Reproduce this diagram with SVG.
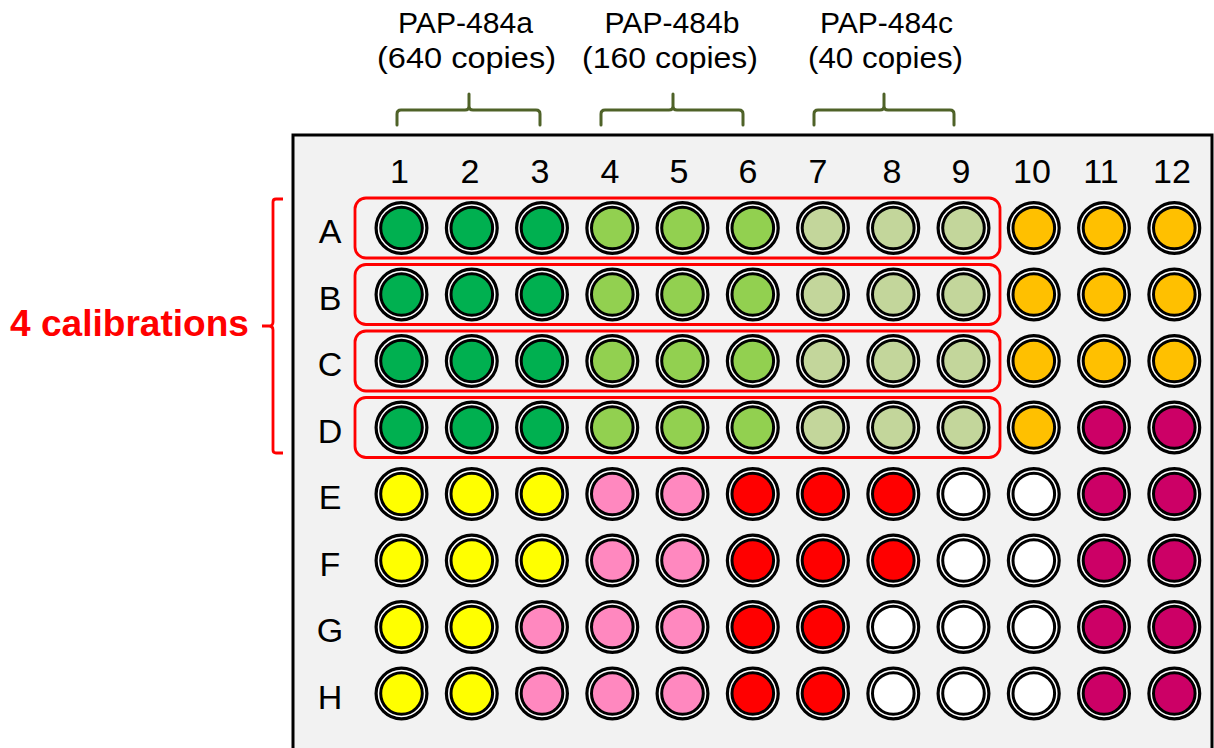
<svg xmlns="http://www.w3.org/2000/svg" width="1214" height="748" viewBox="0 0 1214 748">
<style>
.t{font-family:"Liberation Sans",Arial,sans-serif;fill:#000;}
.top{font-size:29px;text-anchor:middle;}
.lab{font-size:34px;text-anchor:middle;}
.o{fill:#fff;stroke:#000;stroke-width:3.2;}
.i{stroke:#000;stroke-width:3;}
.dg{fill:#00b050;}.lg{fill:#92d050;}.pg{fill:#c3d69b;}.or{fill:#ffc000;}.mg{fill:#cc0066;}
.ye{fill:#ffff00;}.pk{fill:#ff88bf;}.rd{fill:#ff0000;}.wh{fill:#ffffff;}
.gb{fill:none;stroke:#4f6228;stroke-width:3;stroke-linecap:round;}
.rb{fill:none;stroke:#ff0000;stroke-width:2.8;}
.rr{fill:none;stroke:#ff0000;stroke-width:2.8;}
</style>
<rect width="1214" height="748" fill="#fff"/>
<g id="plate"><rect x="293" y="135" width="919" height="640" fill="#f2f2f2" stroke="#000" stroke-width="3"/></g>
<g id="top-labels">
<text class="t top" x="465.5" y="33" textLength="135" lengthAdjust="spacingAndGlyphs">PAP-484a</text>
<text class="t top" x="466.5" y="68" textLength="179" lengthAdjust="spacingAndGlyphs">(640 copies)</text>
<text class="t top" x="672" y="33" textLength="135" lengthAdjust="spacingAndGlyphs">PAP-484b</text>
<text class="t top" x="670" y="68" textLength="176" lengthAdjust="spacingAndGlyphs">(160 copies)</text>
<text class="t top" x="886.5" y="33" textLength="133" lengthAdjust="spacingAndGlyphs">PAP-484c</text>
<text class="t top" x="885.5" y="68" textLength="155" lengthAdjust="spacingAndGlyphs">(40 copies)</text>
</g>
<g id="connectors">
<path class="gb" d="M397,125 V114 Q397,110 401,110 H465 Q469,110 469,106 V94 M469,106 Q469,110 473,110 H536 Q540,110 540,114 V125"/>
<path class="gb" d="M601,125 V114 Q601,110 605,110 H669 Q673,110 673,106 V94 M673,106 Q673,110 677,110 H739 Q743,110 743,114 V125"/>
<path class="gb" d="M814,125 V114 Q814,110 818,110 H880 Q884,110 884,106 V94 M884,106 Q884,110 888,110 H950 Q954,110 954,114 V125"/>
<path class="rb" d="M283,199 H276 Q273,199 273,202 V322 Q273,326 269,326 H262 M269,326 Q273,326 273,330 V450 Q273,453 276,453 H283"/>
</g>
<g id="calibration-label"><text class="t" x="10" y="336" font-size="36" font-weight="bold" fill="#ff0000" style="fill:#ff0000" textLength="239" lengthAdjust="spacingAndGlyphs">4 calibrations</text></g>
<g id="col-labels">
<text class="t lab" x="399.5" y="183">1</text><text class="t lab" x="470" y="183">2</text><text class="t lab" x="540" y="183">3</text>
<text class="t lab" x="610" y="183">4</text><text class="t lab" x="679" y="183">5</text><text class="t lab" x="748" y="183">6</text>
<text class="t lab" x="818" y="183">7</text><text class="t lab" x="892" y="183">8</text><text class="t lab" x="961" y="183">9</text>
<text class="t lab" x="1032" y="183">10</text><text class="t lab" x="1101" y="183">11</text><text class="t lab" x="1172" y="183">12</text>
</g>
<g id="row-labels">
<text class="t lab" x="330" y="243">A</text><text class="t lab" x="330" y="310">B</text><text class="t lab" x="330" y="376">C</text><text class="t lab" x="330" y="443">D</text>
<text class="t lab" x="330" y="509">E</text><text class="t lab" x="330" y="576">F</text><text class="t lab" x="330" y="642">G</text><text class="t lab" x="330" y="709">H</text>
</g>
<g id="calibration-boxes">
<rect class="rr" x="355" y="198" width="645" height="60" rx="11"/>
<rect class="rr" x="355" y="264.5" width="645" height="60" rx="11"/>
<rect class="rr" x="355" y="331" width="645" height="60" rx="11"/>
<rect class="rr" x="355" y="397.5" width="645" height="60" rx="11"/>
</g>
<g id="wells">
<g id="A1" transform="translate(401.5,228)"><circle class="o" r="25.4"/><circle class="i dg" r="20.8"/></g>
<g id="A2" transform="translate(471.8,228)"><circle class="o" r="25.4"/><circle class="i dg" r="20.8"/></g>
<g id="A3" transform="translate(542,228)"><circle class="o" r="25.4"/><circle class="i dg" r="20.8"/></g>
<g id="A4" transform="translate(612.3,228)"><circle class="o" r="25.4"/><circle class="i lg" r="20.8"/></g>
<g id="A5" transform="translate(682.5,228)"><circle class="o" r="25.4"/><circle class="i lg" r="20.8"/></g>
<g id="A6" transform="translate(752.8,228)"><circle class="o" r="25.4"/><circle class="i lg" r="20.8"/></g>
<g id="A7" transform="translate(823,228)"><circle class="o" r="25.4"/><circle class="i pg" r="20.8"/></g>
<g id="A8" transform="translate(893.3,228)"><circle class="o" r="25.4"/><circle class="i pg" r="20.8"/></g>
<g id="A9" transform="translate(963.5,228)"><circle class="o" r="25.4"/><circle class="i pg" r="20.8"/></g>
<g id="A10" transform="translate(1033.8,228)"><circle class="o" r="25.4"/><circle class="i or" r="20.8"/></g>
<g id="A11" transform="translate(1104,228)"><circle class="o" r="25.4"/><circle class="i or" r="20.8"/></g>
<g id="A12" transform="translate(1174.3,228)"><circle class="o" r="25.4"/><circle class="i or" r="20.8"/></g>
<g id="B1" transform="translate(401.5,294.5)"><circle class="o" r="25.4"/><circle class="i dg" r="20.8"/></g>
<g id="B2" transform="translate(471.8,294.5)"><circle class="o" r="25.4"/><circle class="i dg" r="20.8"/></g>
<g id="B3" transform="translate(542,294.5)"><circle class="o" r="25.4"/><circle class="i dg" r="20.8"/></g>
<g id="B4" transform="translate(612.3,294.5)"><circle class="o" r="25.4"/><circle class="i lg" r="20.8"/></g>
<g id="B5" transform="translate(682.5,294.5)"><circle class="o" r="25.4"/><circle class="i lg" r="20.8"/></g>
<g id="B6" transform="translate(752.8,294.5)"><circle class="o" r="25.4"/><circle class="i lg" r="20.8"/></g>
<g id="B7" transform="translate(823,294.5)"><circle class="o" r="25.4"/><circle class="i pg" r="20.8"/></g>
<g id="B8" transform="translate(893.3,294.5)"><circle class="o" r="25.4"/><circle class="i pg" r="20.8"/></g>
<g id="B9" transform="translate(963.5,294.5)"><circle class="o" r="25.4"/><circle class="i pg" r="20.8"/></g>
<g id="B10" transform="translate(1033.8,294.5)"><circle class="o" r="25.4"/><circle class="i or" r="20.8"/></g>
<g id="B11" transform="translate(1104,294.5)"><circle class="o" r="25.4"/><circle class="i or" r="20.8"/></g>
<g id="B12" transform="translate(1174.3,294.5)"><circle class="o" r="25.4"/><circle class="i or" r="20.8"/></g>
<g id="C1" transform="translate(401.5,361)"><circle class="o" r="25.4"/><circle class="i dg" r="20.8"/></g>
<g id="C2" transform="translate(471.8,361)"><circle class="o" r="25.4"/><circle class="i dg" r="20.8"/></g>
<g id="C3" transform="translate(542,361)"><circle class="o" r="25.4"/><circle class="i dg" r="20.8"/></g>
<g id="C4" transform="translate(612.3,361)"><circle class="o" r="25.4"/><circle class="i lg" r="20.8"/></g>
<g id="C5" transform="translate(682.5,361)"><circle class="o" r="25.4"/><circle class="i lg" r="20.8"/></g>
<g id="C6" transform="translate(752.8,361)"><circle class="o" r="25.4"/><circle class="i lg" r="20.8"/></g>
<g id="C7" transform="translate(823,361)"><circle class="o" r="25.4"/><circle class="i pg" r="20.8"/></g>
<g id="C8" transform="translate(893.3,361)"><circle class="o" r="25.4"/><circle class="i pg" r="20.8"/></g>
<g id="C9" transform="translate(963.5,361)"><circle class="o" r="25.4"/><circle class="i pg" r="20.8"/></g>
<g id="C10" transform="translate(1033.8,361)"><circle class="o" r="25.4"/><circle class="i or" r="20.8"/></g>
<g id="C11" transform="translate(1104,361)"><circle class="o" r="25.4"/><circle class="i or" r="20.8"/></g>
<g id="C12" transform="translate(1174.3,361)"><circle class="o" r="25.4"/><circle class="i or" r="20.8"/></g>
<g id="D1" transform="translate(401.5,427.5)"><circle class="o" r="25.4"/><circle class="i dg" r="20.8"/></g>
<g id="D2" transform="translate(471.8,427.5)"><circle class="o" r="25.4"/><circle class="i dg" r="20.8"/></g>
<g id="D3" transform="translate(542,427.5)"><circle class="o" r="25.4"/><circle class="i dg" r="20.8"/></g>
<g id="D4" transform="translate(612.3,427.5)"><circle class="o" r="25.4"/><circle class="i lg" r="20.8"/></g>
<g id="D5" transform="translate(682.5,427.5)"><circle class="o" r="25.4"/><circle class="i lg" r="20.8"/></g>
<g id="D6" transform="translate(752.8,427.5)"><circle class="o" r="25.4"/><circle class="i lg" r="20.8"/></g>
<g id="D7" transform="translate(823,427.5)"><circle class="o" r="25.4"/><circle class="i pg" r="20.8"/></g>
<g id="D8" transform="translate(893.3,427.5)"><circle class="o" r="25.4"/><circle class="i pg" r="20.8"/></g>
<g id="D9" transform="translate(963.5,427.5)"><circle class="o" r="25.4"/><circle class="i pg" r="20.8"/></g>
<g id="D10" transform="translate(1033.8,427.5)"><circle class="o" r="25.4"/><circle class="i or" r="20.8"/></g>
<g id="D11" transform="translate(1104,427.5)"><circle class="o" r="25.4"/><circle class="i mg" r="20.8"/></g>
<g id="D12" transform="translate(1174.3,427.5)"><circle class="o" r="25.4"/><circle class="i mg" r="20.8"/></g>
<g id="E1" transform="translate(401.5,494)"><circle class="o" r="25.4"/><circle class="i ye" r="20.8"/></g>
<g id="E2" transform="translate(471.8,494)"><circle class="o" r="25.4"/><circle class="i ye" r="20.8"/></g>
<g id="E3" transform="translate(542,494)"><circle class="o" r="25.4"/><circle class="i ye" r="20.8"/></g>
<g id="E4" transform="translate(612.3,494)"><circle class="o" r="25.4"/><circle class="i pk" r="20.8"/></g>
<g id="E5" transform="translate(682.5,494)"><circle class="o" r="25.4"/><circle class="i pk" r="20.8"/></g>
<g id="E6" transform="translate(752.8,494)"><circle class="o" r="25.4"/><circle class="i rd" r="20.8"/></g>
<g id="E7" transform="translate(823,494)"><circle class="o" r="25.4"/><circle class="i rd" r="20.8"/></g>
<g id="E8" transform="translate(893.3,494)"><circle class="o" r="25.4"/><circle class="i rd" r="20.8"/></g>
<g id="E9" transform="translate(963.5,494)"><circle class="o" r="25.4"/><circle class="i wh" r="20.8"/></g>
<g id="E10" transform="translate(1033.8,494)"><circle class="o" r="25.4"/><circle class="i wh" r="20.8"/></g>
<g id="E11" transform="translate(1104,494)"><circle class="o" r="25.4"/><circle class="i mg" r="20.8"/></g>
<g id="E12" transform="translate(1174.3,494)"><circle class="o" r="25.4"/><circle class="i mg" r="20.8"/></g>
<g id="F1" transform="translate(401.5,560.5)"><circle class="o" r="25.4"/><circle class="i ye" r="20.8"/></g>
<g id="F2" transform="translate(471.8,560.5)"><circle class="o" r="25.4"/><circle class="i ye" r="20.8"/></g>
<g id="F3" transform="translate(542,560.5)"><circle class="o" r="25.4"/><circle class="i ye" r="20.8"/></g>
<g id="F4" transform="translate(612.3,560.5)"><circle class="o" r="25.4"/><circle class="i pk" r="20.8"/></g>
<g id="F5" transform="translate(682.5,560.5)"><circle class="o" r="25.4"/><circle class="i pk" r="20.8"/></g>
<g id="F6" transform="translate(752.8,560.5)"><circle class="o" r="25.4"/><circle class="i rd" r="20.8"/></g>
<g id="F7" transform="translate(823,560.5)"><circle class="o" r="25.4"/><circle class="i rd" r="20.8"/></g>
<g id="F8" transform="translate(893.3,560.5)"><circle class="o" r="25.4"/><circle class="i rd" r="20.8"/></g>
<g id="F9" transform="translate(963.5,560.5)"><circle class="o" r="25.4"/><circle class="i wh" r="20.8"/></g>
<g id="F10" transform="translate(1033.8,560.5)"><circle class="o" r="25.4"/><circle class="i wh" r="20.8"/></g>
<g id="F11" transform="translate(1104,560.5)"><circle class="o" r="25.4"/><circle class="i mg" r="20.8"/></g>
<g id="F12" transform="translate(1174.3,560.5)"><circle class="o" r="25.4"/><circle class="i mg" r="20.8"/></g>
<g id="G1" transform="translate(401.5,627)"><circle class="o" r="25.4"/><circle class="i ye" r="20.8"/></g>
<g id="G2" transform="translate(471.8,627)"><circle class="o" r="25.4"/><circle class="i ye" r="20.8"/></g>
<g id="G3" transform="translate(542,627)"><circle class="o" r="25.4"/><circle class="i pk" r="20.8"/></g>
<g id="G4" transform="translate(612.3,627)"><circle class="o" r="25.4"/><circle class="i pk" r="20.8"/></g>
<g id="G5" transform="translate(682.5,627)"><circle class="o" r="25.4"/><circle class="i pk" r="20.8"/></g>
<g id="G6" transform="translate(752.8,627)"><circle class="o" r="25.4"/><circle class="i rd" r="20.8"/></g>
<g id="G7" transform="translate(823,627)"><circle class="o" r="25.4"/><circle class="i rd" r="20.8"/></g>
<g id="G8" transform="translate(893.3,627)"><circle class="o" r="25.4"/><circle class="i wh" r="20.8"/></g>
<g id="G9" transform="translate(963.5,627)"><circle class="o" r="25.4"/><circle class="i wh" r="20.8"/></g>
<g id="G10" transform="translate(1033.8,627)"><circle class="o" r="25.4"/><circle class="i wh" r="20.8"/></g>
<g id="G11" transform="translate(1104,627)"><circle class="o" r="25.4"/><circle class="i mg" r="20.8"/></g>
<g id="G12" transform="translate(1174.3,627)"><circle class="o" r="25.4"/><circle class="i mg" r="20.8"/></g>
<g id="H1" transform="translate(401.5,693.5)"><circle class="o" r="25.4"/><circle class="i ye" r="20.8"/></g>
<g id="H2" transform="translate(471.8,693.5)"><circle class="o" r="25.4"/><circle class="i ye" r="20.8"/></g>
<g id="H3" transform="translate(542,693.5)"><circle class="o" r="25.4"/><circle class="i pk" r="20.8"/></g>
<g id="H4" transform="translate(612.3,693.5)"><circle class="o" r="25.4"/><circle class="i pk" r="20.8"/></g>
<g id="H5" transform="translate(682.5,693.5)"><circle class="o" r="25.4"/><circle class="i pk" r="20.8"/></g>
<g id="H6" transform="translate(752.8,693.5)"><circle class="o" r="25.4"/><circle class="i rd" r="20.8"/></g>
<g id="H7" transform="translate(823,693.5)"><circle class="o" r="25.4"/><circle class="i rd" r="20.8"/></g>
<g id="H8" transform="translate(893.3,693.5)"><circle class="o" r="25.4"/><circle class="i wh" r="20.8"/></g>
<g id="H9" transform="translate(963.5,693.5)"><circle class="o" r="25.4"/><circle class="i wh" r="20.8"/></g>
<g id="H10" transform="translate(1033.8,693.5)"><circle class="o" r="25.4"/><circle class="i wh" r="20.8"/></g>
<g id="H11" transform="translate(1104,693.5)"><circle class="o" r="25.4"/><circle class="i mg" r="20.8"/></g>
<g id="H12" transform="translate(1174.3,693.5)"><circle class="o" r="25.4"/><circle class="i mg" r="20.8"/></g>
</g>
</svg>
